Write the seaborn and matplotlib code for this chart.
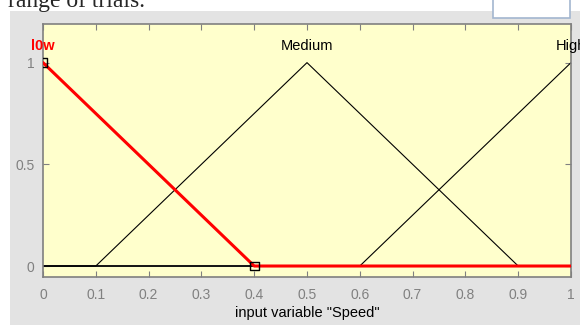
import numpy as np
import pandas as pd
import seaborn as sns
import matplotlib.pyplot as plt
from matplotlib.patches import Rectangle

# membership functions of input variable "Speed"
low_x = [0.0, 0.4, 1.0]
low_y = [1.0, 0.0, 0.0]
med_x = [0.0, 0.1, 0.5, 0.9, 1.0]
med_y = [0.0, 0.0, 1.0, 0.0, 0.0]
high_x = [0.0, 0.6, 1.0]
high_y = [0.0, 0.0, 1.0]
mf_names = ['l0w', 'Medium', 'High']
mf_peaks = [0.0, 0.5, 1.0]
x_ticks = [0, 0.1, 0.2, 0.3, 0.4, 0.5, 0.6, 0.7, 0.8, 0.9, 1]
y_ticks = [0, 0.5, 1]

sns.set_style('white')
plt.rcParams['font.family'] = ['Liberation Sans', 'DejaVu Sans']

fig = plt.figure(figsize=(5.8, 3.25), dpi=100)
fig.patch.set_facecolor('white')
# grey gui panel + white box at top right
fig.patches.append(Rectangle((10 / 580, 0), 1, 1 - 11 / 325, transform=fig.transFigure,
                             facecolor='#e3e3e3', edgecolor='none', zorder=-10))
fig.patches.append(Rectangle((493 / 580, 1 - 18 / 325), 77 / 580, 0.1, transform=fig.transFigure,
                             facecolor='white', edgecolor='#a3b6cf', lw=1.2, zorder=-5))
fig.text(8 / 580, 1 - 7 / 325, 'range of trials.', family='Liberation Serif', fontsize=17,
         va='baseline', ha='left')

ax = fig.add_axes([43 / 580, 48 / 325, 528 / 580, 253 / 325])
ax.set_facecolor('#ffffcc')

med = pd.DataFrame({'x': med_x, 'y': med_y})
high = pd.DataFrame({'x': high_x, 'y': high_y})
low = pd.DataFrame({'x': low_x, 'y': low_y})
sns.lineplot(data=med, x='x', y='y', color='black', lw=0.8, ax=ax, sort=False)
sns.lineplot(data=high, x='x', y='y', color='black', lw=0.8, ax=ax, sort=False)
ax.axhline(0, color='#333333', lw=1.4, zorder=1)
sns.lineplot(data=low, x='x', y='y', color='#ff0000', lw=2.2, ax=ax, sort=False, zorder=3)
sns.scatterplot(x=low_x[:2], y=low_y[:2], marker='s', s=40, facecolor='none',
                edgecolor='black', linewidth=1.0, ax=ax, zorder=4)

for name, px in zip(mf_names, mf_peaks):
    is_sel = name == 'l0w'
    ax.text(px, 1.08, name, ha='center', va='center', fontsize=10.5,
            color='#ff0000' if is_sel else 'black',
            fontweight='bold' if is_sel else 'normal', clip_on=False)

ax.set_xlim(0, 1)
ax.set_ylim(-0.054, 1.19)
ax.set_xticks(x_ticks)
ax.set_xticklabels([f'{t:g}' for t in x_ticks])
ax.set_yticks(y_ticks)
ax.set_yticklabels([f'{t:g}' for t in y_ticks])
ax.tick_params(direction='in', length=4, width=0.8, color='#808080', labelcolor='#808080',
               labelsize=10, top=True, right=True, bottom=True, left=True)
ax.tick_params(axis='x', pad=8)
ax.tick_params(axis='y', pad=6)
for s in ax.spines.values():
    s.set_color('#808080')
    s.set_linewidth(1.2)
ax.set_xlabel('input variable "Speed"', fontsize=10.5, color='black', labelpad=3)
ax.set_ylabel('')

fig.savefig('out.png', dpi=100)
